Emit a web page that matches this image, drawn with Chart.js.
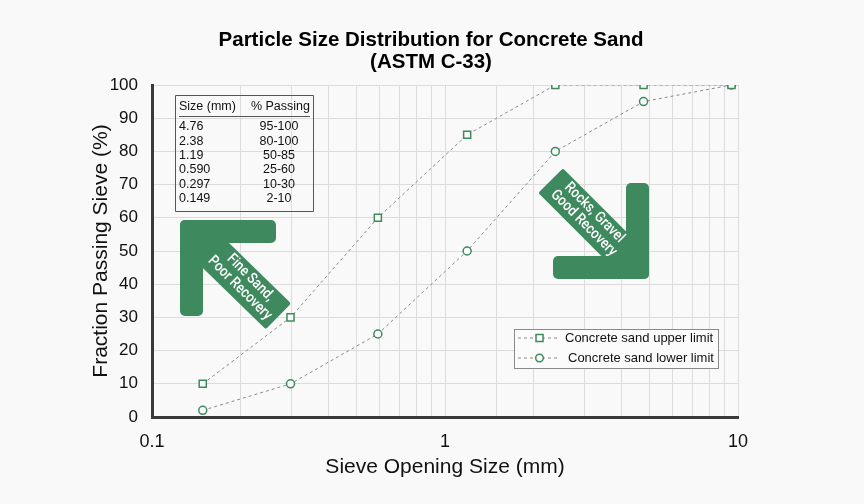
<!DOCTYPE html>
<html>
<head>
<meta charset="utf-8">
<script src="https://cdn.jsdelivr.net/npm/chart.js@4.4.1/dist/chart.umd.min.js"></script>
<style>
  html, body { margin: 0; padding: 0; background: #f9f9f9; }
  #wrap { position: relative; width: 864px; height: 504px; }
</style>
</head>
<body>
<div id="wrap"><canvas id="psdChart" width="864" height="504"></canvas></div>
<script>
// sieve sizes (mm) and % passing limits
const sieveSizes = [0.149, 0.297, 0.59, 1.19, 2.38, 4.76, 9.5];
const upperLimit = [10, 30, 60, 85, 100, 100, 100];
const lowerLimit = [2, 10, 25, 50, 80, 95, 100];

// inset table
const tableSizes = ['4.76', '2.38', '1.19', '0.590', '0.297', '0.149'];
const tablePassing = ['95-100', '80-100', '50-85', '25-60', '10-30', '2-10'];

const titleLines = ['Particle Size Distribution for Concrete Sand', '(ASTM C-33)'];
const seriesNames = ['Concrete sand upper limit', 'Concrete sand lower limit'];

const GREEN = '#3e8a5e';
const LINE_GRAY = '#8a8a8a';
const SANS = '"Liberation Sans", Arial, sans-serif';

const toPoints = ys => sieveSizes.map((x, i) => ({ x, y: ys[i] }));

// rotated two-line label, squeezed to look condensed
const rotatedText = (ctx, lines, cx, cy, angle, size, gap) => {
    ctx.save();
    ctx.translate(cx, cy);
    ctx.rotate(angle);
    ctx.scale(0.86, 1);
    ctx.fillStyle = '#ffffff';
    ctx.font = '500 ' + size + 'px Roboto, "Liberation Sans", sans-serif';
    ctx.textAlign = 'center';
    ctx.textBaseline = 'middle';
    ctx.fillText(lines[0], 0, -gap / 2);
    ctx.fillText(lines[1], 0, gap / 2);
    ctx.restore();
};

const roundRect = (ctx, x, y, w, h, r) => {
    ctx.beginPath();
    ctx.roundRect(x, y, w, h, r);
    ctx.fill();
};

// diagonal shaft between two centre points
const shaft = (ctx, x1, y1, x2, y2, w) => {
    const dx = x2 - x1, dy = y2 - y1;
    const len = Math.hypot(dx, dy);
    const px = -dy / len * w / 2, py = dx / len * w / 2;
    ctx.beginPath();
    ctx.moveTo(x1 + px, y1 + py);
    ctx.lineTo(x2 + px, y2 + py);
    ctx.lineTo(x2 - px, y2 - py);
    ctx.lineTo(x1 - px, y1 - py);
    ctx.closePath();
    ctx.lineJoin = 'round';
    ctx.lineWidth = 4;
    ctx.strokeStyle = GREEN;
    ctx.fill();
    ctx.stroke();
};

const decorations = {
    id: 'decorations',
    beforeDraw(chart) {
        const ctx = chart.ctx;
        ctx.save();
        ctx.fillStyle = '#f9f9f9';
        ctx.fillRect(0, 0, chart.width, chart.height);
        ctx.restore();
    },
    beforeDatasetsDraw(chart) {
        const ctx = chart.ctx;
        ctx.save();
        ctx.fillStyle = GREEN;

        // fine sand arrow (pointing up-left)
        roundRect(ctx, 180, 220, 96, 23, 5);
        roundRect(ctx, 180, 220, 23, 96, 5);
        shaft(ctx, 200, 240, 277, 315, 32);
        rotatedText(ctx, ['Fine Sand,', 'Poor Recovery'], 245, 283, Math.PI / 4, 15, 15);

        // rocks arrow (pointing down-right)
        ctx.fillStyle = GREEN;
        roundRect(ctx, 626, 183, 23, 96, 5);
        roundRect(ctx, 553, 256, 96, 23, 5);
        shaft(ctx, 552, 182, 630, 260, 31);
        rotatedText(ctx, ['Rocks, Gravel', 'Good Recovery'], 589, 218, Math.PI / 4, 15, 15);

        // inset table
        ctx.strokeStyle = '#555';
        ctx.lineWidth = 1;
        ctx.strokeRect(175.5, 95.5, 138, 116);
        ctx.beginPath();
        ctx.moveTo(179, 116.5);
        ctx.lineTo(310, 116.5);
        ctx.stroke();
        ctx.fillStyle = '#111';
        ctx.font = '12.5px ' + SANS;
        ctx.textBaseline = 'middle';
        ctx.textAlign = 'left';
        ctx.fillText('Size (mm)', 179, 107);
        ctx.textAlign = 'right';
        ctx.fillText('% Passing', 310, 107);
        tableSizes.forEach((s, i) => {
            const y = 127 + i * 14.3;
            ctx.textAlign = 'left';
            ctx.fillText(s, 179, y);
            ctx.textAlign = 'center';
            ctx.fillText(tablePassing[i], 279, y);
        });
        ctx.restore();
    },
    afterDraw(chart) {
        const ctx = chart.ctx;
        ctx.save();

        // title
        ctx.fillStyle = '#000';
        ctx.font = 'bold 20.5px ' + SANS;
        ctx.textAlign = 'center';
        ctx.textBaseline = 'middle';
        ctx.fillText(titleLines[0], 431, 40);
        ctx.fillText(titleLines[1], 431, 62);

        // legend
        ctx.fillStyle = '#fbfbfb';
        ctx.fillRect(514, 329, 204, 39);
        ctx.strokeStyle = '#8a8a8a';
        ctx.lineWidth = 1;
        ctx.strokeRect(514.5, 329.5, 204, 39);
        [338, 358].forEach((y, i) => {
            ctx.strokeStyle = LINE_GRAY;
            ctx.setLineDash([3, 3]);
            ctx.beginPath();
            ctx.moveTo(518, y);
            ctx.lineTo(560, y);
            ctx.stroke();
            ctx.setLineDash([]);
            ctx.strokeStyle = GREEN;
            ctx.fillStyle = '#fbfbfb';
            ctx.lineWidth = 1.5;
            ctx.beginPath();
            if (i === 0) {
                ctx.rect(536, y - 3.5, 7, 7);
            } else {
                ctx.arc(539.5, y, 3.8, 0, Math.PI * 2);
            }
            ctx.fill();
            ctx.stroke();
            ctx.lineWidth = 1;
            ctx.fillStyle = '#111';
            ctx.font = '13px ' + SANS;
            ctx.textAlign = 'left';
            ctx.fillText(seriesNames[i], i === 0 ? 565 : 568, y);
        });
        ctx.restore();
    }
};

const ctx = document.getElementById('psdChart').getContext('2d');
new Chart(ctx, {
    type: 'line',
    data: {
        datasets: [
            {
                label: seriesNames[0],
                data: toPoints(upperLimit),
                borderColor: LINE_GRAY,
                borderWidth: 1,
                borderDash: [3, 3],
                pointStyle: 'rect',
                pointRadius: 5,
                pointBorderColor: GREEN,
                pointBackgroundColor: '#fbfbfb',
                pointBorderWidth: 1.5,
                tension: 0
            },
            {
                label: seriesNames[1],
                data: toPoints(lowerLimit),
                borderColor: LINE_GRAY,
                borderWidth: 1,
                borderDash: [3, 3],
                pointStyle: 'circle',
                pointRadius: 4,
                pointBorderColor: GREEN,
                pointBackgroundColor: '#fbfbfb',
                pointBorderWidth: 1.5,
                tension: 0
            }
        ]
    },
    options: {
        responsive: false,
        animation: false,
        layout: { padding: { top: 85, right: 126, bottom: 20, left: 85 } },
        plugins: {
            legend: { display: false },
            title: { display: false },
            tooltip: { enabled: false }
        },
        scales: {
            x: {
                type: 'logarithmic',
                min: 0.1,
                max: 10,
                afterFit: scale => { scale.height = 67; },
                border: { display: true, color: '#3a3a3a', width: 3 },
                grid: { color: '#dcdcdc', lineWidth: 1, drawTicks: false },
                ticks: {
                    autoSkip: false,
                    maxRotation: 0,
                    padding: 14,
                    color: '#111',
                    font: { family: SANS, size: 18 },
                    callback: v => {
                        const l = Math.log10(v);
                        return Math.abs(l - Math.round(l)) < 1e-6 ? String(Number(v.toPrecision(3))) : '';
                    }
                },
                title: {
                    display: true,
                    text: 'Sieve Opening Size (mm)',
                    color: '#111',
                    padding: { top: 4, bottom: 4 },
                    font: { family: SANS, size: 21 }
                }
            },
            y: {
                min: 0,
                max: 100,
                afterFit: scale => { scale.width = 67; },
                border: { display: true, color: '#3a3a3a', width: 3 },
                grid: { color: '#dcdcdc', lineWidth: 1, drawTicks: false },
                ticks: {
                    stepSize: 10,
                    padding: 14,
                    color: '#111',
                    font: { family: SANS, size: 17 }
                },
                title: {
                    display: true,
                    text: 'Fraction Passing Sieve (%)',
                    color: '#111',
                    padding: { top: 4, bottom: 4 },
                    font: { family: SANS, size: 21 }
                }
            }
        }
    },
    plugins: [decorations]
});
</script>
</body>
</html>
